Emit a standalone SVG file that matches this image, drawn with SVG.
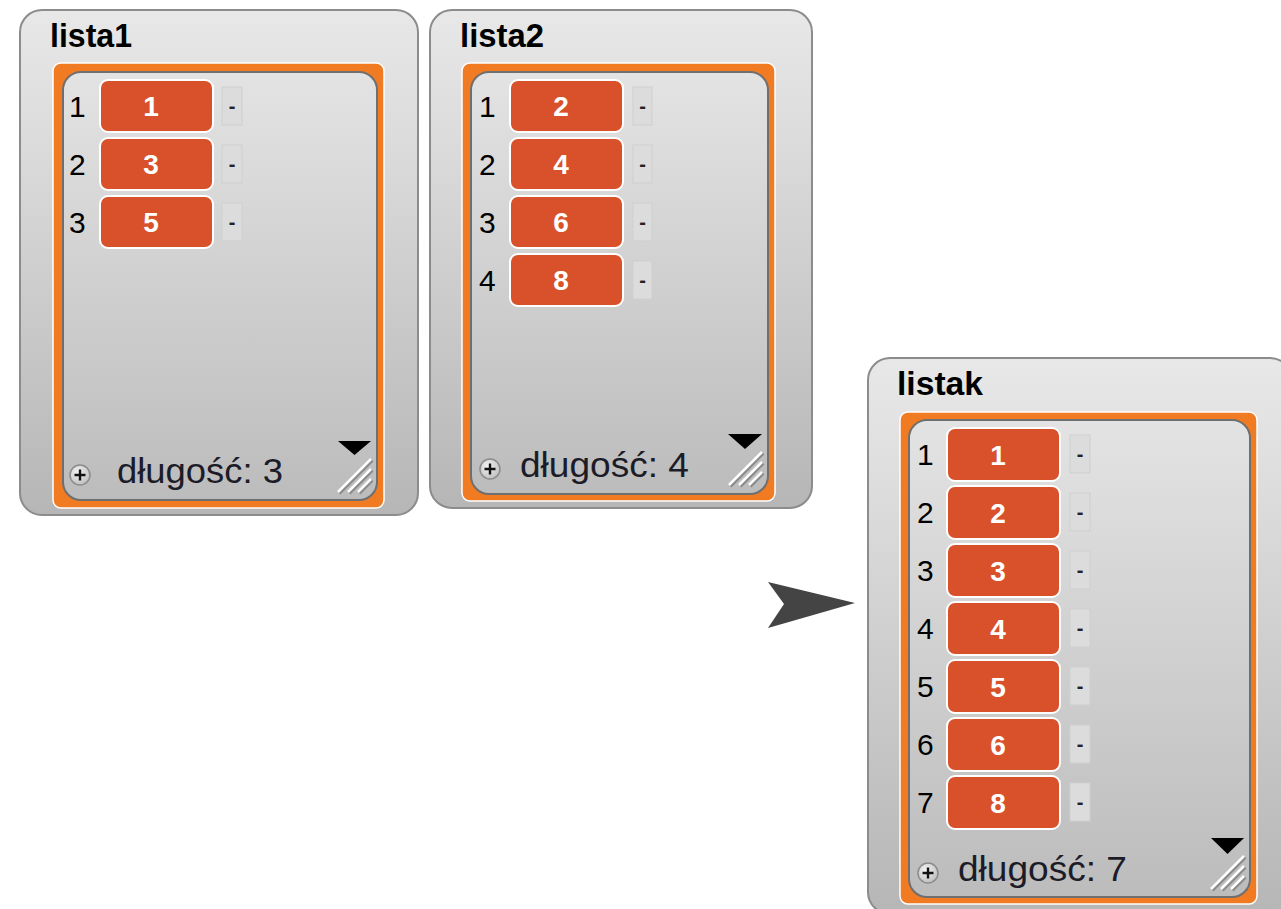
<svg xmlns="http://www.w3.org/2000/svg" width="1281" height="909" viewBox="0 0 1281 909">
<defs>
<linearGradient id="outerG" x1="0" y1="0" x2="0" y2="1">
<stop offset="0" stop-color="#e8e8e8"/>
<stop offset="0.25" stop-color="#dcdcdc"/>
<stop offset="1" stop-color="#b6b6b6"/>
</linearGradient>
<linearGradient id="innerG" x1="0" y1="0" x2="0" y2="1">
<stop offset="0" stop-color="#e3e3e3"/>
<stop offset="1" stop-color="#bcbcbc"/>
</linearGradient>
<radialGradient id="plusG" cx="0.4" cy="0.35" r="0.7">
<stop offset="0" stop-color="#f4f4f4"/>
<stop offset="1" stop-color="#bdbdbd"/>
</radialGradient>
<g id="grip">
<path d="M-2.5,-34.5 L-35.5,-1.5 M-2.5,-24.5 L-25.5,-1.5 M-2.5,-14.5 L-15.5,-1.5" stroke="#8a8a8a" stroke-width="2.5"/>
<path d="M-4,-36 L-37,-3 M-4,-26 L-27,-3 M-4,-16 L-17,-3" stroke="#ffffff" stroke-width="2.5"/>
</g>
<g id="plus">
<circle r="10" fill="url(#plusG)" stroke="#8c8c8c" stroke-width="1.5"/>
<path d="M-5.5,0 H5.5 M0,-5.5 V5.5" stroke="#111" stroke-width="2.4"/>
</g>
</defs>
<style>
.outer{fill:url(#outerG);stroke:#8c8c8c;stroke-width:2}
.frame{fill:#f07b22;stroke:#ffffff;stroke-width:1.5}
.inner{fill:url(#innerG);stroke:#6f6f6f;stroke-width:2}
.title{font-family:"Liberation Sans",Arial,sans-serif;font-weight:bold;font-size:34px;fill:#000}
.idx{font-family:"Liberation Sans",Arial,sans-serif;font-size:30px;fill:#000}
.cell{fill:#d8512a;stroke:#ffffff;stroke-width:2}
.val{font-family:"Liberation Sans",Arial,sans-serif;font-weight:bold;font-size:28px;fill:#ffffff;text-anchor:middle}
.dash{fill:#dcdcdc;stroke:#cfcfcf;stroke-width:1}
.dtxt{font-family:"Liberation Sans",Arial,sans-serif;font-weight:bold;font-size:20px;fill:#222;text-anchor:middle}
.len{font-family:"Liberation Sans",Arial,sans-serif;font-size:35px;fill:#1c1c28}
.tri{fill:#000}
.arrow{fill:#444444}
</style>

<g id="lista1">
<rect class="outer" x="20" y="10" width="398" height="505" rx="22"/>
<text class="title" x="50" y="47" textLength="82" lengthAdjust="spacingAndGlyphs">lista1</text>
<rect class="frame" x="53" y="63" width="331" height="445" rx="8"/>
<rect class="inner" x="63" y="72" width="314" height="428" rx="18"/>
<g>
<text class="idx" x="69" y="117">1</text>
<rect class="cell" x="100" y="80" width="113" height="52" rx="8"/>
<text class="val" x="151" y="116">1</text>
<rect class="dash" x="222" y="87" width="20" height="38"/>
<text class="dtxt" x="232" y="113">-</text>
</g>
<g>
<text class="idx" x="69" y="175">2</text>
<rect class="cell" x="100" y="138" width="113" height="52" rx="8"/>
<text class="val" x="151" y="174">3</text>
<rect class="dash" x="222" y="145" width="20" height="38"/>
<text class="dtxt" x="232" y="171">-</text>
</g>
<g>
<text class="idx" x="69" y="233">3</text>
<rect class="cell" x="100" y="196" width="113" height="52" rx="8"/>
<text class="val" x="151" y="232">5</text>
<rect class="dash" x="222" y="203" width="20" height="38"/>
<text class="dtxt" x="232" y="229">-</text>
</g>
<use href="#plus" x="80" y="475"/>
<text class="len" x="117" y="483" textLength="166" lengthAdjust="spacingAndGlyphs">długość: 3</text>
<polygon class="tri" points="338,441 371,441 354.5,455"/>
<use href="#grip" x="375" y="495"/>
</g>

<g id="lista2">
<rect class="outer" x="430" y="10" width="382" height="498" rx="22"/>
<text class="title" x="460" y="47" textLength="84" lengthAdjust="spacingAndGlyphs">lista2</text>
<rect class="frame" x="462" y="63" width="313" height="438" rx="8"/>
<rect class="inner" x="471" y="72" width="297" height="422" rx="18"/>
<g>
<text class="idx" x="479" y="117">1</text>
<rect class="cell" x="510" y="80" width="113" height="52" rx="8"/>
<text class="val" x="561" y="116">2</text>
<rect class="dash" x="633" y="87" width="19" height="38"/>
<text class="dtxt" x="642.5" y="113">-</text>
</g>
<g>
<text class="idx" x="479" y="175">2</text>
<rect class="cell" x="510" y="138" width="113" height="52" rx="8"/>
<text class="val" x="561" y="174">4</text>
<rect class="dash" x="633" y="145" width="19" height="38"/>
<text class="dtxt" x="642.5" y="171">-</text>
</g>
<g>
<text class="idx" x="479" y="233">3</text>
<rect class="cell" x="510" y="196" width="113" height="52" rx="8"/>
<text class="val" x="561" y="232">6</text>
<rect class="dash" x="633" y="203" width="19" height="38"/>
<text class="dtxt" x="642.5" y="229">-</text>
</g>
<g>
<text class="idx" x="479" y="291">4</text>
<rect class="cell" x="510" y="254" width="113" height="52" rx="8"/>
<text class="val" x="561" y="290">8</text>
<rect class="dash" x="633" y="261" width="19" height="38"/>
<text class="dtxt" x="642.5" y="287">-</text>
</g>
<use href="#plus" x="490" y="469"/>
<text class="len" x="520" y="477" textLength="169" lengthAdjust="spacingAndGlyphs">długość: 4</text>
<polygon class="tri" points="728,434 762,434 745,449"/>
<use href="#grip" x="766" y="488"/>
</g>

<g id="listak">
<rect class="outer" x="868" y="358" width="424" height="556" rx="22"/>
<text class="title" x="897" y="395" textLength="86" lengthAdjust="spacingAndGlyphs">listak</text>
<rect class="frame" x="900" y="412" width="357" height="492" rx="8"/>
<rect class="inner" x="909" y="420" width="341" height="477" rx="18"/>
<g>
<text class="idx" x="917" y="465">1</text>
<rect class="cell" x="947" y="428" width="113" height="53" rx="8"/>
<text class="val" x="998" y="465">1</text>
<rect class="dash" x="1070" y="435" width="20" height="38"/>
<text class="dtxt" x="1080" y="461">-</text>
</g>
<g>
<text class="idx" x="917" y="523">2</text>
<rect class="cell" x="947" y="486" width="113" height="53" rx="8"/>
<text class="val" x="998" y="523">2</text>
<rect class="dash" x="1070" y="493" width="20" height="38"/>
<text class="dtxt" x="1080" y="519">-</text>
</g>
<g>
<text class="idx" x="917" y="581">3</text>
<rect class="cell" x="947" y="544" width="113" height="53" rx="8"/>
<text class="val" x="998" y="581">3</text>
<rect class="dash" x="1070" y="551" width="20" height="38"/>
<text class="dtxt" x="1080" y="577">-</text>
</g>
<g>
<text class="idx" x="917" y="639">4</text>
<rect class="cell" x="947" y="602" width="113" height="53" rx="8"/>
<text class="val" x="998" y="639">4</text>
<rect class="dash" x="1070" y="609" width="20" height="38"/>
<text class="dtxt" x="1080" y="635">-</text>
</g>
<g>
<text class="idx" x="917" y="697">5</text>
<rect class="cell" x="947" y="660" width="113" height="53" rx="8"/>
<text class="val" x="998" y="697">5</text>
<rect class="dash" x="1070" y="667" width="20" height="38"/>
<text class="dtxt" x="1080" y="693">-</text>
</g>
<g>
<text class="idx" x="917" y="755">6</text>
<rect class="cell" x="947" y="718" width="113" height="53" rx="8"/>
<text class="val" x="998" y="755">6</text>
<rect class="dash" x="1070" y="725" width="20" height="38"/>
<text class="dtxt" x="1080" y="751">-</text>
</g>
<g>
<text class="idx" x="917" y="813">7</text>
<rect class="cell" x="947" y="776" width="113" height="53" rx="8"/>
<text class="val" x="998" y="813">8</text>
<rect class="dash" x="1070" y="783" width="20" height="38"/>
<text class="dtxt" x="1080" y="809">-</text>
</g>
<use href="#plus" x="928" y="873"/>
<text class="len" x="958" y="881" textLength="169" lengthAdjust="spacingAndGlyphs">długość: 7</text>
<polygon class="tri" points="1211,838 1244,838 1227.5,854"/>
<use href="#grip" x="1248" y="892"/>
</g>

<g id="connectors">
<polygon class="arrow" points="768,582 855,603 768,628 784,604"/>
</g>
</svg>
